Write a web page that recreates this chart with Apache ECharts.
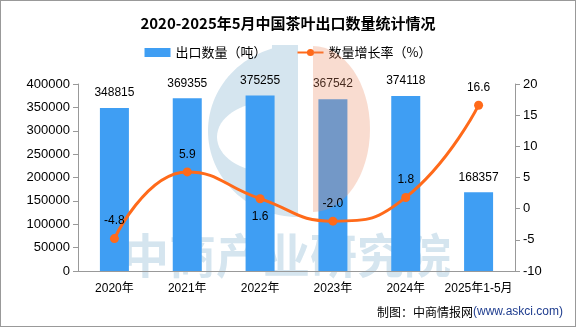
<!DOCTYPE html>
<html><head><meta charset="utf-8">
<script src="https://cdn.jsdelivr.net/npm/echarts@6/dist/echarts.min.js"></script>
<style>html,body{margin:0;padding:0;background:#fff}#c{width:576px;height:327px;box-sizing:border-box;border:1px solid #999}</style>
</head><body><div id="c"></div>
<script>
var categories = ['2020年','2021年','2022年','2023年','2024年','2025年1-5月'];
var exportVolume = [348815, 369355, 375255, 367542, 374118, 168357];
var growthRate = [-4.8, 5.9, 1.6, -2.0, 1.8, 16.6];
var leftTicks = {min:0, max:400000, interval:50000};
var rightTicks = {min:-10, max:20, interval:5};
var ratePositions = ['top','top','bottom','top','top','top'];

var chart = echarts.init(document.getElementById('c'));
var cjk = '"Noto Sans CJK SC", sans-serif';
var latin = '"Liberation Sans", "Noto Sans CJK SC", sans-serif';
var wmBlue = '#D5E5EF';
chart.setOption({
  animation:false,
  textStyle:{fontFamily:latin},
  title:{text:'2020-2025年5月中国茶叶出口数量统计情况',left:'center',top:10,
    textStyle:{fontSize:15,fontWeight:'bold',color:'#000',fontFamily:cjk}},
  legend:{top:40,left:'center',itemGap:30,itemWidth:26,itemHeight:9,
    textStyle:{fontSize:13,color:'#000',fontFamily:cjk},
    data:[{name:'出口数量（吨）',icon:'rect'},{name:'数量增长率（%）'}]},
  grid:{left:77,right:60,top:83,bottom:55},
  graphic:[
    {type:'ellipse',shape:{cx:297,cy:130,rx:90,ry:86},style:{fill:wmBlue},z:0,z2:0,silent:true,
     clipPath:{type:'rect',shape:{x:150,y:40,width:147,height:200}}},
    {type:'ellipse',shape:{cx:268,cy:136,rx:52,ry:35},style:{fill:'#fff'},z:0,z2:1,silent:true},
    {type:'rect',shape:{x:271,y:44,width:26,height:140},style:{fill:wmBlue},z:0,z2:2,silent:true},
    {type:'ellipse',shape:{cx:312,cy:128,rx:57,ry:83},style:{fill:'rgba(236,140,100,0.30)'},z:5,silent:true,
     clipPath:{type:'rect',shape:{x:312,y:40,width:80,height:200}}},
    {type:'text',left:121,top:231,z:0,silent:true,
     style:{text:'中商产业研究院',fill:wmBlue,fontSize:47,fontWeight:'bold',fontFamily:cjk}},
    {type:'text',right:12,top:305,z:10,
     style:{text:'{a|制图：中商情报网}{b|(www.askci.com)}',
       rich:{a:{fill:'#000',fontSize:12,fontFamily:cjk},b:{fill:'#1F3D8F',fontSize:12,fontFamily:latin}}}}
  ],
  xAxis:{type:'category',data:categories,
    axisLine:{lineStyle:{color:'#999'}},axisTick:{lineStyle:{color:'#999'}},
    axisLabel:{color:'#000',fontSize:12,margin:12,interval:0}},
  yAxis:[
    {type:'value',min:leftTicks.min,max:leftTicks.max,interval:leftTicks.interval,
     axisLine:{show:true,lineStyle:{color:'#999'}},axisTick:{show:true,lineStyle:{color:'#999'}},
     splitLine:{show:false},axisLabel:{color:'#000',fontSize:13,formatter:function(v){return String(v);}}},
    {type:'value',min:rightTicks.min,max:rightTicks.max,interval:rightTicks.interval,
     axisLine:{show:true,lineStyle:{color:'#999'}},axisTick:{show:true,lineStyle:{color:'#999'}},
     splitLine:{show:false},axisLabel:{color:'#000',fontSize:13,formatter:function(v){return String(v);}}}
  ],
  series:[
    {name:'出口数量（吨）',type:'bar',data:exportVolume,barWidth:29,z:2,
     itemStyle:{color:'#3F9EF3'},
     label:{show:true,position:'top',distance:9,color:'#000',fontSize:12}},
    {name:'数量增长率（%）',type:'line',yAxisIndex:1,smooth:true,z:6,
     data:growthRate.map(function(v,i){return {value:v,label:{position:ratePositions[i]}};}),
     symbol:'circle',symbolSize:9,
     lineStyle:{color:'#FF6A1A',width:3},itemStyle:{color:'#FF6A1A'},
     label:{show:true,color:'#000',fontSize:12,distance:7,formatter:function(p){return p.value.toFixed(1);}}}
  ]
});
</script></body></html>
